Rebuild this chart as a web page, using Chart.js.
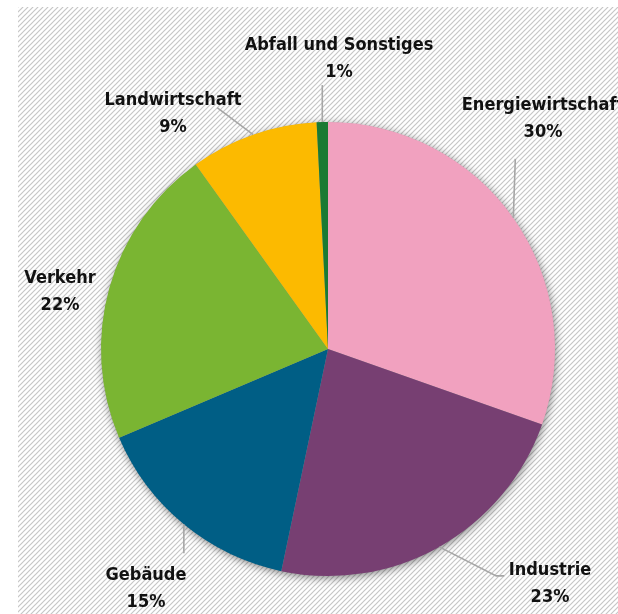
<!DOCTYPE html>
<html>
<head>
<meta charset="utf-8">
<script src="https://cdn.jsdelivr.net/npm/chart.js@4.4.0/dist/chart.umd.min.js"></script>
<style>
html,body{margin:0;padding:0;background:#fff;}
#wrap{width:618px;height:614px;}
</style>
</head>
<body>
<div id="wrap"><canvas id="c" width="618" height="614"></canvas></div>
<script>
const categories = ['Energiewirtschaft','Industrie','Gebäude','Verkehr','Landwirtschaft','Abfall und Sonstiges'];
const shares = [30.4, 22.9, 15.3, 21.5, 9.1, 0.8];
const shareLabels = ['30%','23%','15%','22%','9%','1%'];
const colors = ['#F1A1BF','#773F72','#005E85','#7AB532','#FCBA00','#1A7A33'];

const FONT = 'bold 18px "DejaVu Sans Condensed", "Liberation Sans Narrow", sans-serif';

// label placement (centers) and leader line path offsets from arc edge
const labelLayout = [
  {x:543, y1:105, y2:132, path:[[2,-59]]},
  {x:550, y1:570, y2:597, path:[[57,29],[65,29]]},
  {x:146, y1:575, y2:602, path:[[0,29]]},
  {x:60,  y1:278, y2:305, path:[]},
  {x:173, y1:100, y2:127, path:[[-36,-27]]},
  {x:339, y1:45,  y2:72,  path:[[0,-37]]}
];

const hatchPlugin = {
  id:'hatch',
  beforeDraw(chart){
    const ctx = chart.ctx;
    const p = document.createElement('canvas');
    p.width = 5; p.height = 5;
    const pc = p.getContext('2d');
    pc.strokeStyle = '#c6c6c6';
    pc.lineWidth = 1.2;
    pc.beginPath();
    pc.moveTo(-1,6); pc.lineTo(6,-1);
    pc.moveTo(-1,1); pc.lineTo(1,-1);
    pc.moveTo(4,6); pc.lineTo(6,4);
    pc.stroke();
    ctx.save();
    ctx.fillStyle = '#fff';
    ctx.fillRect(0,0,chart.width,chart.height);
    ctx.fillStyle = ctx.createPattern(p,'repeat');
    ctx.fillRect(18,7,chart.width-18,chart.height-7);
    ctx.restore();
  }
};

const shadowPlugin = {
  id:'shadow',
  beforeDatasetsDraw(chart){
    const arc = chart.getDatasetMeta(0).data[0];
    if(!arc) return;
    const ctx = chart.ctx;
    ctx.save();
    ctx.shadowColor = 'rgba(0,0,0,0.5)';
    ctx.shadowBlur = 9;
    ctx.shadowOffsetX = 1;
    ctx.shadowOffsetY = 2;
    ctx.fillStyle = '#999';
    ctx.beginPath();
    ctx.arc(arc.x, arc.y, arc.outerRadius - 0.5, 0, Math.PI*2);
    ctx.fill();
    ctx.restore();
  }
};

const labelPlugin = {
  id:'outLabels',
  afterDatasetsDraw(chart){
    const ctx = chart.ctx;
    const meta = chart.getDatasetMeta(0);
    ctx.save();
    meta.data.forEach((arc, i) => {
      const L = labelLayout[i];
      const mid = (arc.startAngle + arc.endAngle)/2;
      const sx = arc.x + Math.cos(mid)*arc.outerRadius;
      const sy = arc.y + Math.sin(mid)*arc.outerRadius;
      if(L.path.length){
        ctx.strokeStyle = '#a6a6a6';
        ctx.lineWidth = 1.6;
        ctx.beginPath();
        ctx.moveTo(sx, sy);
        L.path.forEach(([dx,dy]) => ctx.lineTo(sx+dx, sy+dy));
        ctx.stroke();
      }
      ctx.fillStyle = '#111';
      ctx.font = FONT;
      ctx.textAlign = 'center';
      ctx.textBaseline = 'middle';
      ctx.fillText(categories[i], L.x, L.y1);
      ctx.fillText(shareLabels[i], L.x, L.y2);
    });
    ctx.restore();
  }
};

new Chart(document.getElementById('c'), {
  type:'pie',
  data:{
    labels:categories,
    datasets:[{
      data:shares,
      backgroundColor:colors,
      borderWidth:0
    }]
  },
  options:{
    responsive:false,
    animation:false,
    layout:{padding:{left:101,right:63,top:122,bottom:38}},
    plugins:{legend:{display:false},tooltip:{enabled:false}}
  },
  plugins:[hatchPlugin, shadowPlugin, labelPlugin]
});
</script>
</body>
</html>
